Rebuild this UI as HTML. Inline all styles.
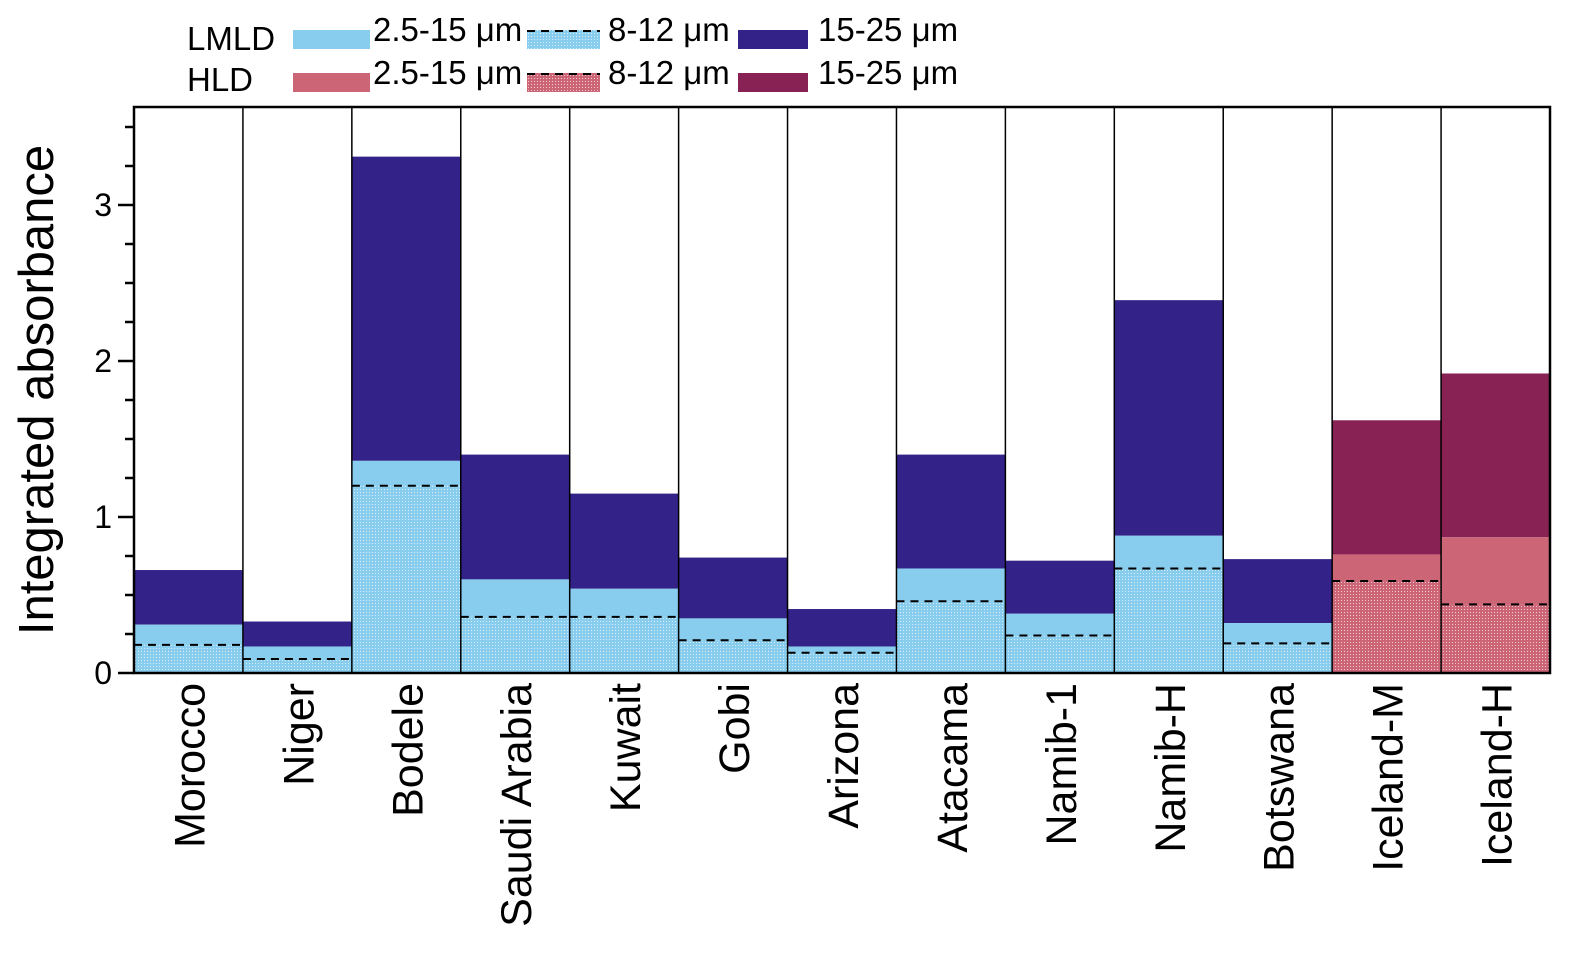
<!DOCTYPE html>
<html><head><meta charset="utf-8"><style>body{margin:0;background:#fff}svg{display:block;font-family:"Liberation Sans",Arial,sans-serif}</style></head>
<body>
<svg id="chart" width="1596" height="970" viewBox="0 0 1596 970">
<defs>
<pattern id="pb" width="3" height="3" patternUnits="userSpaceOnUse"><rect width="3" height="3" fill="#88CDEE"/><rect width="1" height="1" fill="#d8effa"/></pattern>
<pattern id="pp" width="3" height="3" patternUnits="userSpaceOnUse"><rect width="3" height="3" fill="#CC6677"/><rect width="1" height="1" fill="#f0c8d0"/></pattern>
</defs>
<g id="legend">
<text x="187" y="50" font-size="33">LMLD</text>
<text x="187" y="91" font-size="33">HLD</text>
<rect x="293" y="30" width="77" height="19" fill="#88CDEE"/>
<rect x="293" y="73" width="77" height="19" fill="#CC6677"/>
<text x="373" y="41" font-size="33">2.5-15 μm</text>
<text x="373" y="84" font-size="33">2.5-15 μm</text>
<rect x="527" y="30" width="73" height="19" fill="url(#pb)"/>
<rect x="527" y="73" width="73" height="19" fill="url(#pp)"/>
<line x1="527" y1="31" x2="600" y2="31" stroke="#000" stroke-width="2" stroke-dasharray="8,6"/>
<line x1="527" y1="74" x2="600" y2="74" stroke="#000" stroke-width="2" stroke-dasharray="8,6"/>
<text x="608" y="41" font-size="33">8-12 μm</text>
<text x="608" y="84" font-size="33">8-12 μm</text>
<rect x="738" y="30" width="70" height="19" fill="#332288"/>
<rect x="738" y="73" width="70" height="19" fill="#882255"/>
<text x="818" y="41" font-size="33">15-25 μm</text>
<text x="818" y="84" font-size="33">15-25 μm</text>
</g>
<g id="bars"></g>
<g id="axes"></g>
<text transform="translate(53,390) rotate(-90)" text-anchor="middle" font-size="49">Integrated absorbance</text>
</svg>
<script>
const categories=["Morocco","Niger","Bodele","Saudi Arabia","Kuwait","Gobi","Arizona","Atacama","Namib-1","Namib-H","Botswana","Iceland-M","Iceland-H"];
const total=[0.66,0.33,3.31,1.40,1.15,0.74,0.41,1.40,0.72,2.39,0.73,1.62,1.92];
const band2to15=[0.31,0.17,1.36,0.60,0.54,0.35,0.17,0.67,0.38,0.88,0.32,0.76,0.87];
const band8to12=[0.18,0.09,1.20,0.36,0.36,0.21,0.13,0.46,0.24,0.67,0.19,0.59,0.44];
const isHLD=[0,0,0,0,0,0,0,0,0,0,0,1,1];
const yTicks=[0,1,2,3];
const NS="http://www.w3.org/2000/svg";
const L=134,R=1550,T=107,B=673,ymax=(B-T)/156;
const y=v=>B-v*156;
const bw=(R-L)/categories.length;
const x=i=>L+i*bw;
function mk(tag,attrs,parent){const e=document.createElementNS(NS,tag);for(const k in attrs)e.setAttribute(k,attrs[k]);parent.appendChild(e);return e;}
const gb=document.getElementById('bars'),ga=document.getElementById('axes');
categories.forEach((c,i)=>{
  const h=isHLD[i];
  let r=mk('rect',{x:x(i),y:y(total[i]),width:bw,height:y(band2to15[i])-y(total[i]),fill:h?'#882255':'#332288'},gb);
  
  
  r=mk('rect',{x:x(i),y:y(band2to15[i]),width:bw,height:y(band8to12[i])-y(band2to15[i]),fill:h?'#CC6677':'#88CDEE'},gb);
  
  
  r=mk('rect',{x:x(i),y:y(band8to12[i]),width:bw,height:B-y(band8to12[i]),fill:h?'url(#pp)':'url(#pb)'},gb);
  
  
  const d=mk('line',{x1:x(i),x2:x(i+1),y1:y(band8to12[i]),y2:y(band8to12[i]),stroke:'#000','stroke-width':2,'stroke-dasharray':'8,6'},gb);
  
  
  const t=mk('text',{transform:`translate(${x(i)+bw/2+16},683) rotate(-90)`,'text-anchor':'end','font-size':43},ga);
  t.textContent=c;
  
  
});
for(let i=1;i<categories.length;i++){const l=mk('line',{x1:x(i),x2:x(i),y1:T,y2:B,stroke:'#000','stroke-width':1.5},ga);
  
  }
const fr=mk('rect',{x:L,y:T,width:R-L,height:B-T,fill:'none',stroke:'#000','stroke-width':2.5},ga);


for(let v=0;v<=ymax+1e-6;v+=0.25){const major=Math.abs(v-Math.round(v))<1e-6;
  const l=mk('line',{x1:major?L-16:L-9,x2:L,y1:y(v),y2:y(v),stroke:'#000','stroke-width':2.5},ga);
  
  }
yTicks.forEach(v=>{const t=mk('text',{x:L-22,y:y(v)+11,'text-anchor':'end','font-size':32},ga);t.textContent=v;
  
  });
</script>
</body></html>
